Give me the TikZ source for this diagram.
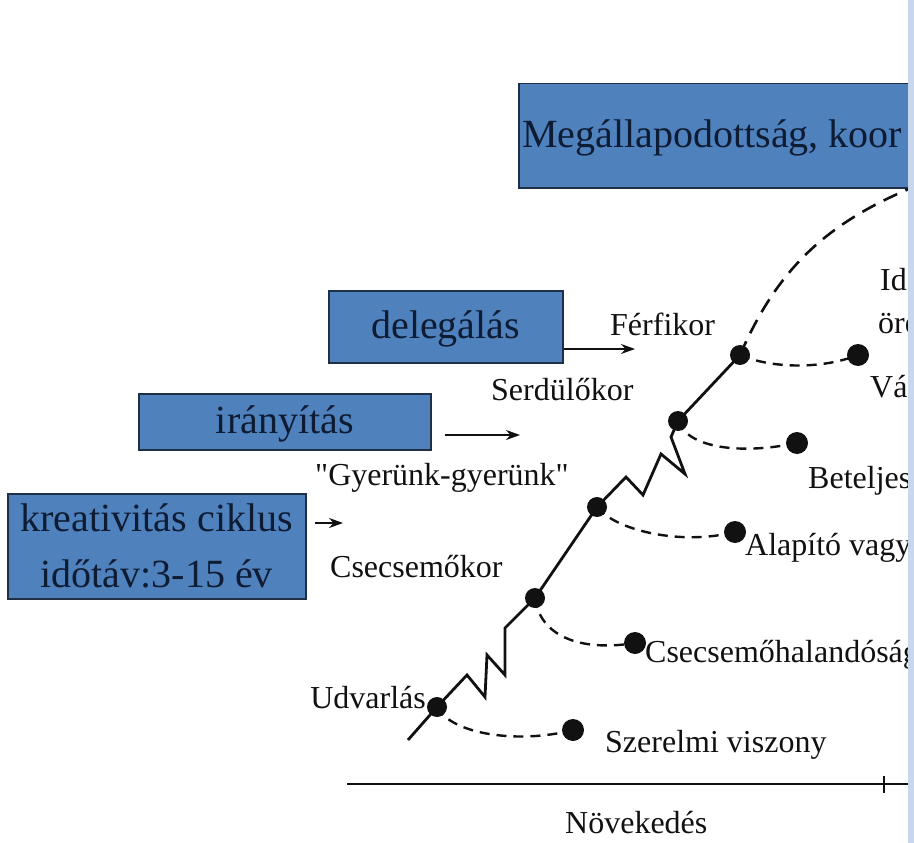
\documentclass[tikz,border=0pt]{standalone}
\usepackage{fontspec}
\setmainfont{Liberation Serif}[Ligatures=TeXOff]
\usetikzlibrary{arrows.meta}
\definecolor{boxfill}{HTML}{4F81BD}
\definecolor{boxline}{HTML}{1F2F45}
\definecolor{boxtext}{HTML}{0D1B33}
\definecolor{stripc}{HTML}{C9D7EE}
\definecolor{ink}{HTML}{111111}
\begin{document}
\begin{tikzpicture}[x=1pt,y=-1pt,
  bluebox/.style={draw=boxline,line width=1.5pt,fill=boxfill,inner sep=0pt,text=boxtext,font=\fontsize{40}{56}\selectfont},
  lbl/.style={inner sep=0pt,anchor=base west,text=ink,font=\fontsize{32}{38}\selectfont},
  spdot/.style={circle,fill=ink,inner sep=0pt,minimum size=20pt},
  enddot/.style={circle,fill=ink,inner sep=0pt,minimum size=22pt},
  spine/.style={draw=ink,line width=2.8pt,line join=miter},
  branch/.style={draw=ink,line width=2.4pt,dash pattern=on 10pt off 7pt},
  growcurve/.style={draw=ink,line width=2.6pt,dash pattern=on 15pt off 9pt},
  arr/.style={draw=ink,line width=1.8pt,-{Stealth[length=14pt,width=10pt]}}
]
\useasboundingbox (0,0) rectangle (914,843);
\fill[white] (0,0) rectangle (914,843);

% boxes
\node[bluebox,minimum width=400pt,minimum height=104pt,anchor=north west] (agree) at (518,83) {};
\node[inner sep=0pt,anchor=base west,text=boxtext,font=\fontsize{40}{48}\selectfont] (agreetxt) at (522,147) {Megállapodottság, koor};
\node[bluebox,minimum width=234pt,minimum height=72pt,anchor=north west,text height=29pt,text depth=5pt] (deleg) at (328,290) {delegálás};
\node[bluebox,minimum width=292pt,minimum height=56pt,anchor=north west,text height=29pt,text depth=5pt] (irany) at (138,393) {irányítás};
\node[bluebox,minimum width=298pt,minimum height=105pt,anchor=north west,align=center] (kreat) at (7,493) {kreativitás ciklus\\időtáv:3-15 év};

% arrows
\coordinate (delTip) at (635,349);
\draw[arr] (delTip -| deleg.east) -- (delTip);
\coordinate (irS) at (445,435);
\coordinate (irT) at (520,435);
\draw[arr] (irS) -- (irT);
\coordinate (krS) at (315,523);
\coordinate (krT) at (343,523);
\draw[arr] (krS) -- (krT);

% labels
\node[lbl] (ferfi) at (610,335) {Férfikor};
\node[lbl] (serd) at (491,400) {Serdülőkor};
\node[lbl] (gyer) at (315,485) {"Gyerünk-gyerünk"};
\node[lbl] (csk) at (330,577) {Csecsemőkor};
\node[lbl,anchor=base east] (udv) at (426,708) {Udvarlás};
\node[lbl] (szer) at (605,752) {Szerelmi viszony};
\node[lbl] (csh) at (645,662) {Csecsemőhalandóság};
\node[lbl] (alap) at (745,555) {Alapító vagy};
\node[lbl] (betel) at (808,488) {Beteljes};
\node[lbl] (valsag) at (870,397) {Vál};
\node[lbl] (oreg) at (878,333) {öre};
\node[lbl] (ido) at (880,290) {Idő};
\node[lbl] (nov) at (565,833) {Növekedés};

% spine dots
\node[spdot] (s1) at (437,707) {};
\node[spdot] (s2) at (535,598) {};
\node[spdot] (s3) at (597,507) {};
\node[spdot] (s4) at (678,421) {};
\node[spdot] (s5) at (740,355) {};
% branch end dots
\node[enddot] (e1) at (573,730) {};
\node[enddot] (e2) at (635,643) {};
\node[enddot] (e3) at (735,532) {};
\node[enddot] (e4) at (797,443) {};
\node[enddot] (e5) at (858,355) {};

% spine
\coordinate (s0) at (408,740);
\coordinate (za) at (467,675);
\coordinate (zb) at (485,697);
\coordinate (zc) at (487,655);
\coordinate (zd) at (505,675);
\coordinate (ze) at (505,628);
\coordinate (zf) at (626,477);
\coordinate (zg) at (643,495);
\coordinate (zh) at (661,454);
\coordinate (zi) at (685,474);
\coordinate (zj) at (671,437);
\draw[spine] (s0) -- (s1.center) -- (za) -- (zb) -- (zc) -- (zd) -- (ze) -- (s2.center) -- (s3.center)
  -- (zf) -- (zg) -- (zh) -- (zi) -- (zj) -- (s4.center) -- (s5.center);

% branches
\draw[branch] (s1.center) .. controls (452,735) and (520,744) .. (e1.center);
\draw[branch] (s2.center) .. controls (540,636) and (580,652) .. (e2.center);
\draw[branch] (s3.center) .. controls (615,530) and (680,546) .. (e3.center);
\draw[branch] (s4.center) .. controls (688,448) and (740,455) .. (e4.center);
\draw[branch] (s5.center) .. controls (770,368) and (820,370) .. (e5.center);

% growth curve
\coordinate (gEnd) at (916,186);
\draw[growcurve] (s5.center) .. controls (775,275) and (820,225) .. (gEnd);

% axis
\coordinate (ax0) at (347,784);
\coordinate (ax1) at (914,784);
\draw[draw=ink,line width=1.8pt] (ax0) -- (ax1);
\coordinate (tk0) at (884,776);
\coordinate (tk1) at (884,793);
\draw[draw=ink,line width=1.5pt] (tk0) -- (tk1);

% right strip
\fill[stripc] (908,0) rectangle (914,843);
\end{tikzpicture}
\end{document}
